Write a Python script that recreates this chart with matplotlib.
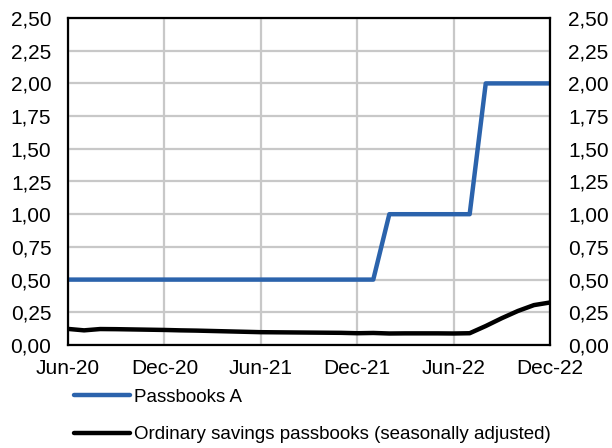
import matplotlib.pyplot as plt
import pandas as pd
from matplotlib.ticker import FixedLocator, FuncFormatter

plt.rcParams['font.family'] = ['Liberation Sans', 'DejaVu Sans']

months = pd.date_range('2020-06-01', '2022-12-01', freq='MS')

passbooks_a = [0.50] * 20 + [1.00] * 6 + [2.00] * 5

ordinary = [0.123, 0.112, 0.122, 0.121, 0.119, 0.117, 0.115, 0.112, 0.110, 0.107,
            0.104, 0.101, 0.098, 0.097, 0.096, 0.095, 0.094, 0.093, 0.090, 0.092,
            0.088, 0.089, 0.089, 0.089, 0.088, 0.090, 0.145, 0.205, 0.260, 0.305,
            0.325]

tick_labels = ['Jun-20', 'Dec-20', 'Jun-21', 'Dec-21', 'Jun-22', 'Dec-22']

fig = plt.figure(figsize=(6.12, 4.48), dpi=100)
ax = fig.add_axes([68 / 612, 1 - 345 / 448, (550 - 68) / 612, (345 - 18) / 448])

x = list(range(len(months)))
l1, = ax.plot(x, passbooks_a, color='#2b63ac', lw=3.2, solid_capstyle='round',
              label='Passbooks A')
l2, = ax.plot(x, ordinary, color='black', lw=3.2, solid_capstyle='round',
              label='Ordinary savings passbooks (seasonally adjusted)')

ax.set_xlim(0, len(months) - 1)
ax.set_ylim(0, 2.5)
ax.xaxis.set_major_locator(FixedLocator(x[::6]))
ax.set_xticklabels(tick_labels)
yt = [i * 0.25 for i in range(11)]
ax.set_yticks(yt)
fmt = FuncFormatter(lambda v, p: f'{v:.2f}'.replace('.', ','))
ax.yaxis.set_major_formatter(fmt)
ax.grid(True, color='#c8c8c8', lw=1.6)
ax.set_axisbelow(True)
for s in ax.spines.values():
    s.set_linewidth(1.6)
    s.set_color('black')
ax.tick_params(length=0, labelsize=15, pad=12)
ax.tick_params(axis='x', pad=10)

ax2 = ax.twinx()
ax2.set_ylim(0, 2.5)
ax2.set_yticks(yt)
ax2.yaxis.set_major_formatter(fmt)
ax2.tick_params(length=0, labelsize=15, pad=13)
for s in ax2.spines.values():
    s.set_visible(False)

fig.legend(handles=[l1, l2], loc='upper left', bbox_to_anchor=(66 / 612, 1 - 381 / 448),
           frameon=False, fontsize=13.5, handlelength=3.0, handletextpad=0.2,
           labelspacing=1.1, borderaxespad=0)

fig.savefig('out.png', dpi=100)
